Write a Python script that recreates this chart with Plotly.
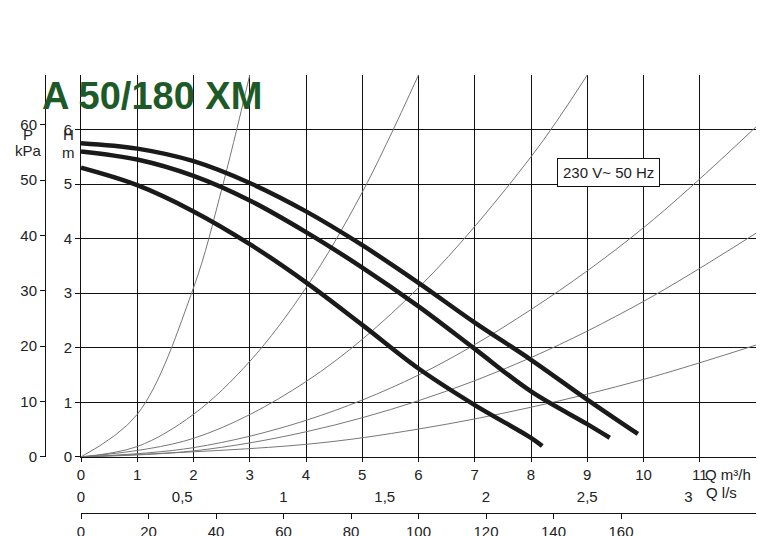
import plotly.graph_objects as go

# pump curves (Q m3/h, H m)
q_high = [0, 1, 2, 3, 4, 5, 6, 7, 8, 9, 9.9]
h_high = [5.75, 5.65, 5.42, 5.02, 4.5, 3.88, 3.19, 2.46, 1.78, 1.05, 0.42]
q_mid = [0, 1, 2, 3, 4, 5, 6, 7, 8, 9, 9.4]
h_mid = [5.6, 5.45, 5.15, 4.7, 4.12, 3.47, 2.76, 1.98, 1.2, 0.6, 0.35]
q_low = [0, 1, 2, 3, 4, 5, 6, 7, 8, 8.2]
h_low = [5.3, 4.98, 4.5, 3.9, 3.2, 2.42, 1.62, 0.95, 0.35, 0.2]

# thin system curves
sys_q = [
    [0, 1, 2, 2.5, 3.0],
    [0, 1, 2, 3, 4, 5, 6],
    [0, 2, 4, 6, 8, 9],
    [0, 2, 4, 6, 8, 10, 12],
    [0, 2, 4, 6, 8, 10, 12],
    [0, 4, 6, 8, 10, 12],
]
sys_h = [
    [0, 0.78, 3.1, 4.9, 7.0],
    [0, 0.19, 0.78, 1.75, 3.1, 4.85, 7.0],
    [0, 0.34, 1.38, 3.1, 5.5, 7.0],
    [0, 0.17, 0.67, 1.5, 2.7, 4.2, 6.05],
    [0, 0.11, 0.46, 1.03, 1.82, 2.85, 4.1],
    [0, 0.23, 0.51, 0.91, 1.42, 2.05],
]

q_m3h_ticks = list(range(0, 12))
q_ls_vals = [0, 0.5, 1, 1.5, 2, 2.5, 3]
q_ls_text = ["0", "0,5", "1", "1,5", "2", "2,5", "3"]
q_lmin_vals = [0, 20, 40, 60, 80, 100, 120, 140, 160]
h_ticks = list(range(0, 7))
p_ticks = [0, 10, 20, 30, 40, 50, 60]

fig = go.Figure()
for xs, ys in zip(sys_q, sys_h):
    fig.add_trace(go.Scatter(x=xs, y=ys, mode="lines", line=dict(color="#777", width=1, shape="spline"),
                             showlegend=False, hoverinfo="skip"))
for xs, ys in [(q_high, h_high), (q_mid, h_mid), (q_low, h_low)]:
    fig.add_trace(go.Scatter(x=xs, y=ys, mode="lines", line=dict(color="#1a1a1a", width=4.5, shape="spline"),
                             showlegend=False))
# dummy traces to bring secondary axes alive
fig.add_trace(go.Scatter(x=[0], y=[0], yaxis="y2", mode="markers", marker=dict(opacity=0), showlegend=False))
fig.add_trace(go.Scatter(x=[0], y=[0], xaxis="x2", mode="markers", marker=dict(opacity=0), showlegend=False))
fig.add_trace(go.Scatter(x=[0], y=[0], xaxis="x3", mode="markers", marker=dict(opacity=0), showlegend=False))

font = dict(family="Liberation Sans, Arial", size=15, color="#222")
ydom = [0.168, 1]
xdom = [68 / 743, 1]
fig.update_layout(
    width=781, height=536, margin=dict(l=5, r=33, t=67, b=10, autoexpand=False),
    plot_bgcolor="white", paper_bgcolor="white", font=font,
    xaxis=dict(domain=xdom, range=[0, 12], tickvals=q_m3h_ticks, showgrid=True, gridcolor="#111", gridwidth=1,
               dtick=1, zeroline=False, showline=True, linecolor="#111", ticks="outside", ticklen=4,
               tickcolor="#111", anchor="y", automargin=False),
    yaxis=dict(domain=ydom, range=[0, 7], tickvals=h_ticks, showgrid=True, gridcolor="#111", gridwidth=1,
               dtick=1, zeroline=False, showline=True, linecolor="#111", ticks="outside", ticklen=5,
               tickcolor="#111", anchor="x", automargin=False),
    yaxis2=dict(domain=ydom, range=[0, 7 / 0.1015], overlaying="y", anchor="free", position=32 / 743,
                tickvals=p_ticks, showgrid=False, zeroline=False, showline=True, linecolor="#111",
                ticks="outside", ticklen=5, tickcolor="#111", side="left", automargin=False),
    xaxis2=dict(domain=xdom, range=[0, 12 / 3.6], overlaying="x", anchor="free", position=0.105,
                tickvals=q_ls_vals, ticktext=q_ls_text, showgrid=False, zeroline=False, showline=False,
                ticks="", side="bottom", automargin=False),
    xaxis3=dict(domain=xdom, range=[0, 200], overlaying="x", anchor="free", position=0.046,
                tickvals=q_lmin_vals, showgrid=False, zeroline=False, showline=True, linecolor="#111",
                ticks="outside", ticklen=5, tickcolor="#111", side="bottom", automargin=False),
)

ann = [
    dict(text="<b>A 50/180 XM</b>", x=28, y=24, font=dict(size=38, color="#1e5a28", family="Liberation Sans, Arial")),
    dict(text="P", x=16, y=70), dict(text="kPa", x=16, y=88),
    dict(text="H", x=58, y=70), dict(text="m", x=58, y=90),
    dict(text="Q m³/h", x=752, y=466), dict(text="Q l/s", x=745, y=488),
]
for a in ann:
    xanchor = "left" if a["text"].startswith("<b>") else "center"
    fig.add_annotation(text=a["text"], x=a["x"] / 781, y=1 - a["y"] / 536, xref="paper", yref="paper",
                       showarrow=False, xanchor=xanchor, yanchor="middle", font=a.get("font", font))
fig.add_annotation(text="230 V~ 50 Hz", x=680 / 781, y=1 - 97 / 536, xref="paper", yref="paper", showarrow=False,
                   bordercolor="#111", borderwidth=1, borderpad=5, bgcolor="white", font=font)

fig.write_html("out.html")
